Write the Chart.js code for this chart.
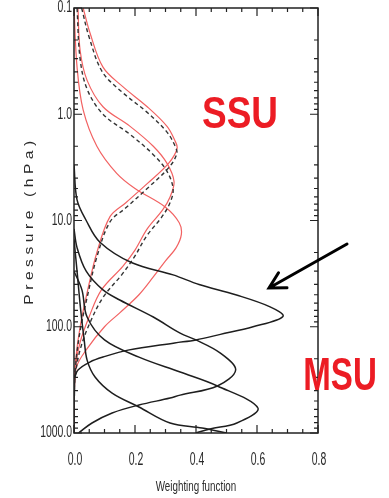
<!DOCTYPE html>
<html>
<head>
<meta charset="utf-8">
<script src="https://cdn.jsdelivr.net/npm/chart.js@4.4.0/dist/chart.umd.min.js"></script>
<style>
  html, body { margin: 0; padding: 0; background: #fff; }
  #wrap { width: 389px; height: 498px; }
</style>
</head>
<body>
<div id="wrap"><canvas id="wf" width="389" height="498"></canvas></div>
<script>
// AXIS TICKS
const X_TICKS = [0, 0.2, 0.4, 0.6, 0.8];
const X_LABELS = ['0.0', '0.2', '0.4', '0.6', '0.8'];
const Y_TICKS = [0.1, 1, 10, 100, 1000];
const Y_LABELS = ['0.1', '1.0', '10.0', '100.0', '1000.0'];
const X_MINOR = 0.05;

// SSU channels (red solid), pressure hPa / weight
const SSU3_P = [0.1, 0.17, 0.36, 0.55, 0.85, 1.3, 1.75, 2.1, 2.9, 4.5, 6.8, 9.2, 20, 45, 100, 200, 400, 1000];
const SSU3_W = [0.03, 0.052, 0.095, 0.16, 0.24, 0.305, 0.33, 0.338, 0.31, 0.24, 0.17, 0.118, 0.075, 0.045, 0.02, 0.006, 0.001, 0];
const SSU2_P = [0.1, 0.25, 0.48, 0.85, 1.3, 2.0, 2.9, 4.3, 6, 8, 12, 19, 27, 45, 80, 140, 240, 450, 1000];
const SSU2_W = [0.013, 0.02, 0.043, 0.095, 0.184, 0.26, 0.305, 0.328, 0.315, 0.29, 0.24, 0.2, 0.16, 0.09, 0.05, 0.02, 0.005, 0.001, 0];
const SSU1_P = [0.1, 0.36, 0.91, 2.0, 3.6, 5.0, 7.5, 10.5, 13.5, 18, 24, 34, 50, 74, 100, 165, 240, 400, 1000];
const SSU1_W = [0.0, 0.01, 0.03, 0.075, 0.14, 0.2, 0.3, 0.345, 0.352, 0.335, 0.3, 0.26, 0.213, 0.15, 0.1, 0.04, 0.008, 0.001, 0];

// SSU channels, second version (black dashed)
const SSU3D_P = [0.1, 0.19, 0.4, 0.62, 0.95, 1.45, 1.95, 2.35, 3.2, 5.0, 7.6, 10.3, 22, 50, 110, 220, 440, 1000];
const SSU3D_W = [0.025, 0.05, 0.093, 0.158, 0.238, 0.303, 0.33, 0.337, 0.31, 0.24, 0.17, 0.118, 0.075, 0.045, 0.02, 0.006, 0.001, 0];
const SSU2D_P = [0.1, 0.3, 0.58, 1.0, 1.55, 2.4, 3.45, 5.1, 7.1, 9.5, 14, 22, 32, 53, 95, 165, 280, 500, 1000];
const SSU2D_W = [0.01, 0.02, 0.043, 0.095, 0.184, 0.26, 0.305, 0.325, 0.312, 0.285, 0.238, 0.198, 0.158, 0.095, 0.05, 0.02, 0.005, 0.001, 0];

// MSU channels (black solid)
const MSU4_P = [3, 6.4, 10, 16, 25, 32.5, 40, 50, 65, 80, 100, 118, 133, 142, 166, 193, 215, 255, 300];
const MSU4_W = [0, 0.01, 0.04, 0.085, 0.19, 0.325, 0.41, 0.53, 0.643, 0.685, 0.587, 0.48, 0.4, 0.33, 0.177, 0.095, 0.052, 0.013, 0.002];
const MSU3_P = [12, 18, 30, 45, 56, 81, 115, 133, 177, 255, 361, 440, 469, 545, 648, 805, 1000];
const MSU3_W = [0, 0.01, 0.04, 0.095, 0.15, 0.26, 0.348, 0.4, 0.48, 0.53, 0.47, 0.348, 0.315, 0.213, 0.125, 0.059, 0.015];
const MSU2_P = [30, 45, 81, 133, 193, 267, 361, 582, 805, 917, 1000];
const MSU2_W = [0, 0.026, 0.043, 0.1, 0.213, 0.348, 0.47, 0.603, 0.534, 0.446, 0.4];
const MSU1_P = [15, 30, 70, 130, 206, 297, 421, 569, 805, 897, 1000];
const MSU1_W = [0, 0.01, 0.022, 0.033, 0.043, 0.069, 0.125, 0.213, 0.315, 0.42, 0.5];

const RED = '#f26262';
const INK = '#1e1e1e';

function curve(w, p) {
    return w.map((v, i) => ({ x: v, y: p[i] }));
}

function redLine(w, p) {
    return { data: curve(w, p), borderColor: RED, borderWidth: 1.2 };
}
function dashLine(w, p) {
    return { data: curve(w, p), borderColor: '#333', borderWidth: 1.4, borderDash: [4, 3] };
}
function blackLine(w, p) {
    return { data: curve(w, p), borderColor: INK, borderWidth: 1.5 };
}

// draw text squashed horizontally
function squash(ctx, text, x, y, sx, align) {
    ctx.save();
    ctx.translate(x, y);
    ctx.scale(sx, 1);
    ctx.textAlign = align;
    ctx.fillText(text, 0, 0);
    ctx.restore();
}

// frame + inward ticks on all four sides
const frameTicks = {
    id: 'frameTicks',
    afterDatasetsDraw(chart) {
        const { ctx, chartArea: a, scales: { x, y } } = chart;
        ctx.save();
        ctx.strokeStyle = '#222';
        ctx.lineWidth = 1.5;
        ctx.strokeRect(a.left, a.top, a.right - a.left, a.bottom - a.top);
        ctx.lineWidth = 1.2;
        ctx.beginPath();
        const nx = Math.round((X_TICKS[X_TICKS.length - 1] - X_TICKS[0]) / X_MINOR);
        for (let i = 0; i <= nx; i++) {
            const px = x.getPixelForValue(X_TICKS[0] + i * X_MINOR);
            const len = i % 4 === 0 ? 8 : 4;
            ctx.moveTo(px, a.bottom); ctx.lineTo(px, a.bottom - len);
            ctx.moveTo(px, a.top); ctx.lineTo(px, a.top + len);
        }
        Y_TICKS.forEach((d, k) => {
            const last = k === Y_TICKS.length - 1;
            for (let m = 1; m <= (last ? 1 : 9); m++) {
                const py = y.getPixelForValue(d * m);
                const len = m === 1 ? 8 : 4;
                ctx.moveTo(a.left, py); ctx.lineTo(a.left + len, py);
                ctx.moveTo(a.right, py); ctx.lineTo(a.right - len, py);
            }
        });
        ctx.stroke();
        ctx.restore();
    }
};

// tick labels, titles, SSU / MSU annotations and the arrow
const labels = {
    id: 'labels',
    afterDraw(chart) {
        const { ctx, chartArea: a, scales: { x, y } } = chart;
        ctx.save();
        ctx.fillStyle = '#2a2a2a';
        ctx.textBaseline = 'middle';
        ctx.font = '16px "Liberation Sans"';
        Y_TICKS.forEach((v, i) => squash(ctx, Y_LABELS[i], a.left - 2, y.getPixelForValue(v), 0.65, 'right'));
        ctx.font = '18px "Liberation Sans"';
        X_TICKS.forEach((v, i) => squash(ctx, X_LABELS[i], x.getPixelForValue(v) + 1, 460, 0.58, 'center'));
        ctx.font = '14px "Liberation Sans"';
        squash(ctx, 'Weighting function', (a.left + a.right) / 2, 487, 0.7, 'center');

        // rotated, letter-spaced y title
        ctx.save();
        ctx.translate(30, (a.top + a.bottom) / 2);
        ctx.rotate(-Math.PI / 2);
        ctx.scale(1.3, 1);
        ctx.font = '12px "Liberation Sans"';
        ctx.letterSpacing = '3.5px';
        ctx.textAlign = 'center';
        ctx.fillText('Pressure (hPa)', 0, 0);
        ctx.restore();

        ctx.fillStyle = '#ec1c24';
        ctx.textBaseline = 'alphabetic';
        ctx.font = 'bold 44px "Liberation Sans"';
        squash(ctx, 'SSU', 240, 128, 0.84, 'center');
        ctx.font = 'bold 46px "Liberation Sans"';
        squash(ctx, 'MSU', 340, 390, 0.72, 'center');

        // arrow pointing at the top MSU channel
        const x0 = 347, y0 = 244, x1 = 269, y1 = 288;
        const ang = Math.atan2(y1 - y0, x1 - x0);
        ctx.strokeStyle = '#000';
        ctx.lineWidth = 3;
        ctx.lineCap = 'round';
        ctx.beginPath();
        ctx.moveTo(x0, y0); ctx.lineTo(x1, y1);
        ctx.moveTo(x1 - 18 * Math.cos(ang - 0.5), y1 - 18 * Math.sin(ang - 0.5));
        ctx.lineTo(x1, y1);
        ctx.lineTo(x1 - 18 * Math.cos(ang + 0.5), y1 - 18 * Math.sin(ang + 0.5));
        ctx.stroke();
        ctx.restore();
    }
};

new Chart(document.getElementById('wf').getContext('2d'), {
    type: 'line',
    data: {
        datasets: [
            blackLine(MSU4_W, MSU4_P),
            blackLine(MSU3_W, MSU3_P),
            blackLine(MSU2_W, MSU2_P),
            blackLine(MSU1_W, MSU1_P),
            dashLine(SSU3D_W, SSU3D_P),
            dashLine(SSU2D_W, SSU2D_P),
            redLine(SSU3_W, SSU3_P),
            redLine(SSU2_W, SSU2_P),
            redLine(SSU1_W, SSU1_P)
        ]
    },
    options: {
        responsive: false,
        animation: false,
        devicePixelRatio: 1,
        layout: { padding: { left: 74, right: 71, top: 8, bottom: 65 } },
        elements: {
            point: { radius: 0 },
            line: { tension: 0.35, fill: false }
        },
        plugins: {
            legend: { display: false },
            tooltip: { enabled: false }
        },
        scales: {
            x: { type: 'linear', min: 0, max: 0.8, display: false },
            y: { type: 'logarithmic', min: 0.1, max: 1000, reverse: true, display: false }
        }
    },
    plugins: [frameTicks, labels]
});
</script>
</body>
</html>
